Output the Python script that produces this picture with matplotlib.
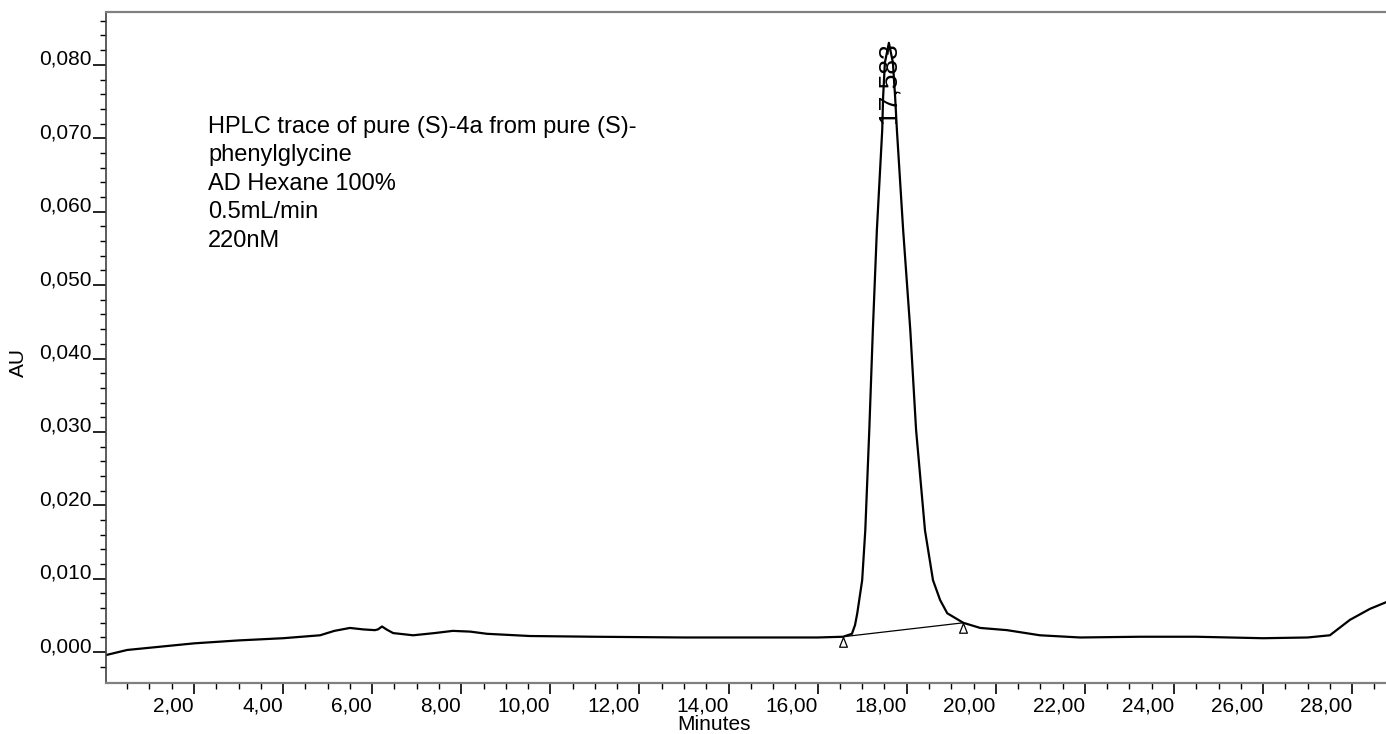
import matplotlib
matplotlib.use('Agg')
import matplotlib.pyplot as plt
from matplotlib.path import Path
import numpy as np

plt.rcParams['font.family'] = ['Liberation Sans', 'DejaVu Sans']

# Chromatogramm-Werte
zeit_min = [0.02, 0.5, 1.0, 1.5, 2.0, 3.0, 4.0, 4.83, 5.15, 5.5, 5.8, 6.06, 6.13, 6.22,
            6.32, 6.47, 6.92, 7.4, 7.81, 8.2, 8.58, 9.54, 11.0, 13.0, 15.0, 16.0, 16.57,
            16.77, 16.84, 16.89, 17.0, 17.07, 17.16, 17.24, 17.33, 17.45, 17.47, 17.51,
            17.60, 17.69, 17.74, 17.78, 17.92, 18.08, 18.21, 18.41, 18.59, 18.75, 18.91,
            19.27, 19.65, 20.25, 20.99, 21.89, 23.24, 24.5, 26.0, 27.0, 27.5, 27.95,
            28.4, 28.76]
au = [-0.0004, 0.0003, 0.0006, 0.0009, 0.0012, 0.0016, 0.0019, 0.0023, 0.0029, 0.0033,
      0.0031, 0.0030, 0.0031, 0.0035, 0.0031, 0.0026, 0.0023, 0.0026, 0.0029, 0.0028,
      0.0025, 0.0022, 0.0021, 0.0020, 0.0020, 0.0020, 0.0021, 0.0025, 0.0037, 0.0053,
      0.0098, 0.0166, 0.0303, 0.0439, 0.0575, 0.0711, 0.0756, 0.0803, 0.0830, 0.0803,
      0.0756, 0.0711, 0.0575, 0.0439, 0.0303, 0.0166, 0.0098, 0.0071, 0.0053, 0.0040,
      0.0033, 0.0030, 0.0023, 0.0020, 0.0021, 0.0021, 0.0019, 0.0020, 0.0023, 0.0044,
      0.0059, 0.0068]

# Peak-Integration
peak_rt = 17.60
peak_au = 0.0830
peak_label = '17,583'
basis_zeit = [16.57, 19.27]
basis_au = [0.0021, 0.0040]

# Achsen-Beschriftung
x_ticks = [2, 4, 6, 8, 10, 12, 14, 16, 18, 20, 22, 24, 26, 28]
x_labels = ['2,00', '4,00', '6,00', '8,00', '10,00', '12,00', '14,00', '16,00',
            '18,00', '20,00', '22,00', '24,00', '26,00', '28,00']
y_ticks = [0.0, 0.01, 0.02, 0.03, 0.04, 0.05, 0.06, 0.07, 0.08]
y_labels = ['0,000', '0,010', '0,020', '0,030', '0,040', '0,050', '0,060', '0,070', '0,080']

notiz = ['HPLC trace of pure (S)-4a from pure (S)-', 'phenylglycine',
         'AD Hexane 100%', '0.5mL/min', '220nM']
notiz_y_px = [133, 161, 190, 218, 247]

#%%

fig = plt.figure(figsize=(13.86, 7.34), dpi=100)
ax = fig.add_axes([106/1386, 1-683/734, 1-106/1386, (683-12)/734])

ax.plot(zeit_min, au, color='black', lw=1.6, solid_joinstyle='round')

# Basislinie mit Dreiecken
dreieck = Path([(0, 0), (-0.4, -1), (0.4, -1), (0, 0)],
               [Path.MOVETO, Path.LINETO, Path.LINETO, Path.CLOSEPOLY])
ax.plot(basis_zeit, basis_au, color='black', lw=0.9)
ax.plot(basis_zeit, basis_au, ls='none', marker=dreieck, ms=14,
        mfc='white', mec='black', mew=0.9)

ax.text(peak_rt, peak_au, peak_label, rotation=90, ha='center', va='top', fontsize=19)

ax.set_xlim(0.024, 28.76)
ax.set_ylim(-0.0042, 0.0872)

ax.set_xticks(x_ticks, x_labels)
ax.set_xticks(np.arange(0.5, 28.76, 0.5), minor=True)
ax.set_yticks(y_ticks, y_labels)
ax.set_yticks(np.arange(-0.002, 0.0872, 0.002), minor=True)
ax.tick_params(axis='x', which='major', length=8, width=1.2, pad=2, labelsize=15)
ax.tick_params(axis='x', which='minor', length=4.3, width=1)
ax.tick_params(axis='y', which='major', length=9.4, width=1.2, pad=1, labelsize=15)
ax.tick_params(axis='y', which='minor', length=4.3, width=1)
plt.setp(ax.get_xticklabels(), ha='right')
plt.setp(ax.get_yticklabels(), va='baseline')

ax.spines['right'].set_visible(False)
ax.spines['top'].set_color('#808080')
ax.spines['bottom'].set_color('#808080')
ax.spines['top'].set_linewidth(1.6)
ax.spines['bottom'].set_linewidth(1.6)
ax.spines['left'].set_color('#404040')
ax.spines['left'].set_linewidth(1.2)

fig.text(714/1386, 1-730/734, 'Minutes', ha='center', va='baseline', fontsize=15)
fig.text(18/1386, 1-362/734, 'AU', rotation=90, ha='center', va='center', fontsize=15)

for zeile, ypx in zip(notiz, notiz_y_px):
    fig.text(208/1386, 1-ypx/734, zeile, ha='left', va='baseline', fontsize=17)

fig.savefig('out.png', dpi=100)
